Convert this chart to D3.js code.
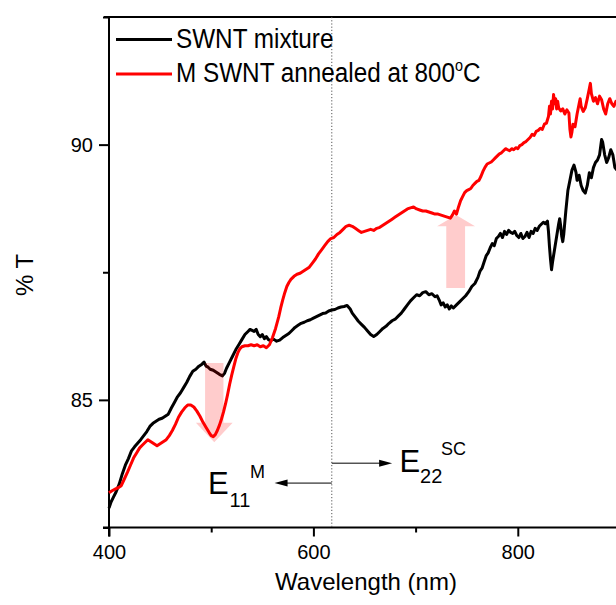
<!DOCTYPE html>
<html><head><meta charset="utf-8">
<script src="https://cdn.jsdelivr.net/npm/d3@7"></script>
<style>html,body{margin:0;padding:0;background:#fff;overflow:hidden}</style>
</head><body>
<svg id="c" width="616" height="605"></svg>
<script>
// ---- data ----
const blackNm = [400,402,404,407,410,413,416,419,422,425,428,431,434,437,440,443,446,449,452,455,458,461,464,467,470,473,476,479,482,485,488,491,493,495,497,499,502,505,508,511,513,515,518,521,524,527,530,533,536,538,540,542,544,546,548,550,552,554,556,558,561,564,567,570,573,576,579,582,585,588,591,594,597,600,603,606,609,612,615,618,621,624,627,630,633,636,638,641,644,647,650,653,656,659,662,665,668,671,674,677,680,683,686,689,692,695,698,701,704,707,710,713,716,719,721,723,725,727,729,731,733,735,737,740,743,746,749,752,755,758,761,763,765,767,769,771,773,775,777,779,781,783,785,787,789,791,793,795,797,799,801,803,805,807,809,811,813,815,817,819,821,823,825,827,829,830,831,832,833,834,836,838,840,841,842,843,844,845,847,849,851,853,855,857,858,860,862,864,866,868,870,872,874,876,878,880,882,883,885,887,889,891,893,895,897];
const blackT = [82.88,83.00,83.08,83.20,83.35,83.55,83.72,83.85,84.00,84.08,84.15,84.22,84.30,84.38,84.48,84.54,84.58,84.62,84.64,84.68,84.72,84.84,84.95,85.06,85.14,85.24,85.34,85.46,85.56,85.60,85.66,85.70,85.74,85.66,85.64,85.60,85.58,85.54,85.50,85.47,85.52,85.62,85.74,85.86,85.98,86.08,86.18,86.28,86.34,86.38,86.36,86.34,86.38,86.28,86.24,86.28,86.20,86.24,86.18,86.16,86.19,86.15,86.17,86.22,86.26,86.30,86.36,86.42,86.46,86.50,86.52,86.55,86.57,86.60,86.63,86.66,86.69,86.70,86.74,86.76,86.77,86.80,86.82,86.83,86.85,86.78,86.70,86.62,86.54,86.48,86.42,86.35,86.28,86.24,86.28,86.34,86.40,86.44,86.50,86.55,86.58,86.64,86.70,86.78,86.86,86.94,87.00,87.06,87.04,87.10,87.12,87.06,87.08,87.02,87.04,86.96,86.86,86.90,86.82,86.86,86.78,86.84,86.80,86.86,86.92,86.98,87.04,87.12,87.22,87.28,87.40,87.52,87.58,87.70,87.82,87.88,87.98,88.06,88.02,88.16,88.20,88.26,88.18,88.30,88.24,88.32,88.28,88.26,88.30,88.22,88.18,88.26,88.16,88.20,88.28,88.18,88.30,88.26,88.36,88.32,88.40,88.44,88.48,88.45,88.50,88.30,88.00,87.75,87.55,87.70,87.95,88.20,88.45,88.55,88.40,88.20,88.10,88.25,88.70,89.10,89.30,89.50,89.60,89.45,89.30,89.40,89.20,89.10,89.05,89.20,89.45,89.35,89.55,89.65,89.70,89.80,90.10,90.05,89.80,89.65,89.75,89.90,89.80,89.55,89.50];

const redNm = [400,403,406,409,412,415,418,421,424,427,430,433,436,438,441,444,447,450,453,456,459,462,465,468,471,474,477,480,483,486,489,492,495,498,500,502,504,506,508,510,512,514,516,518,520,522,524,526,528,530,533,536,539,542,545,548,551,554,557,560,563,566,568,570,572,574,576,578,581,584,587,590,593,596,599,602,605,608,611,614,617,620,623,626,629,632,635,638,641,644,647,650,653,656,659,662,665,668,671,674,677,680,683,686,689,692,695,698,701,704,707,710,713,716,719,722,725,728,731,734,736,738,740,742,744,746,748,750,752,754,756,758,760,762,764,766,768,770,772,774,776,778,780,782,784,786,788,790,792,794,796,798,800,802,804,806,808,810,812,814,816,818,820,822,824,826,828,830,831,832,833,834,835,836,837,838,839,840,842,844,846,848,850,851,852,853,854,856,858,860,861,862,864,866,868,870,871,872,874,876,878,880,882,884,886,888,890,892,894,896,897];
const redT = [83.18,83.22,83.25,83.28,83.32,83.45,83.58,83.72,83.86,83.96,84.06,84.12,84.18,84.22,84.18,84.14,84.10,84.14,84.18,84.22,84.30,84.40,84.52,84.66,84.76,84.84,84.90,84.90,84.86,84.78,84.68,84.56,84.46,84.36,84.30,84.28,84.32,84.40,84.50,84.62,84.76,84.92,85.10,85.30,85.48,85.64,85.80,85.92,86.00,86.04,86.06,86.06,86.08,86.06,86.08,86.04,86.06,86.02,86.08,86.22,86.40,86.62,86.80,86.96,87.10,87.22,87.30,87.36,87.42,87.46,87.48,87.52,87.56,87.60,87.68,87.76,87.86,87.94,88.02,88.10,88.16,88.18,88.24,88.28,88.34,88.40,88.42,88.40,88.36,88.32,88.28,88.30,88.32,88.34,88.32,88.36,88.38,88.42,88.46,88.50,88.54,88.58,88.62,88.66,88.70,88.74,88.76,88.78,88.74,88.72,88.70,88.70,88.68,88.66,88.64,88.64,88.62,88.60,88.58,88.56,88.62,88.70,88.64,88.78,88.90,88.98,89.06,89.10,89.12,89.14,89.20,89.24,89.28,89.30,89.38,89.48,89.56,89.62,89.64,89.66,89.70,89.74,89.78,89.82,89.84,89.88,89.92,89.90,89.88,89.92,89.90,89.94,89.92,89.98,90.00,90.04,90.06,90.10,90.14,90.20,90.18,90.26,90.28,90.32,90.30,90.40,90.42,90.55,90.75,90.60,90.85,90.70,90.98,90.80,90.90,90.70,90.85,90.72,90.66,90.70,90.60,90.68,90.62,90.30,90.15,90.25,90.40,90.35,90.60,90.80,90.90,90.75,90.65,90.72,90.90,91.10,91.20,91.00,90.85,90.92,90.80,90.95,90.88,90.70,90.60,90.80,90.90,90.80,90.75,90.85,90.80];

const seriesNames = ["SWNT mixture", "M SWNT annealed at 800"];
const xTicks = [400, 600, 800];
const xMinorTicks = [500, 700, 900];
const yTicks = [85, 90];
const yMinorTicks = [82.5, 87.5, 92.5];
const dividerNm = 618;                 // dotted line
const e11Arrow = [618, 562, 83.37];    // from nm, to nm, %T
const e22Arrow = [618, 677, 83.76];
// pink change arrows: [shaft nm from, shaft nm to, head nm from, head nm to, tail %T, head base %T, tip %T]
const downArrow = [494, 512, 485, 521, 85.72, 84.55, 84.17];
const upArrow = [730, 748.4, 721, 758.2, 87.19, 88.40, 88.62];

// ---- chart ----
const svg = d3.select("#c");
const font = "'Liberation Sans', Arial, Helvetica, sans-serif";
const x = d3.scaleLinear().domain([400, 900]).range([109, 620]);
const y = d3.scaleLinear().domain([82.5, 92.5]).range([527.5, 17]);

// frame lines
svg.append("line").attr("x1", x(400) - 5).attr("x2", x(900)).attr("y1", y(92.5)).attr("y2", y(92.5))
  .attr("stroke", "#000").attr("stroke-width", 2);

// x axis
const gx = svg.append("g").attr("transform", `translate(0,${y(82.5)})`)
  .call(d3.axisBottom(x).tickValues(xTicks).tickSize(9).tickSizeOuter(0).tickPadding(8.5).tickFormat(d3.format("d")));
gx.append("g").call(d3.axisBottom(x).tickValues(xMinorTicks).tickSize(5).tickSizeOuter(0).tickFormat(""))
  .select(".domain").remove();
gx.selectAll(".domain").attr("d", `M${x(400) - 6},0H${x(900)}`);
gx.selectAll("line").attr("stroke-width", 2);
gx.selectAll(".domain").attr("stroke-width", 2);
gx.selectAll("text").attr("font-family", font).attr("font-size", 20).attr("fill", "#000");

// y axis
const gy = svg.append("g").attr("transform", `translate(${x(400)},0)`)
  .call(d3.axisLeft(y).tickValues(yTicks).tickSize(10).tickSizeOuter(0).tickPadding(6).tickFormat(d3.format("d")));
gy.append("g").call(d3.axisLeft(y).tickValues(yMinorTicks).tickSize(6).tickSizeOuter(0).tickFormat(""))
  .select(".domain").remove();
gy.selectAll(".domain").attr("d", `M0,${y(92.5)}V${y(82.5) + 9}`);
gy.selectAll("line").attr("stroke-width", 2);
gy.selectAll(".domain").attr("stroke-width", 2);
gy.selectAll("text").attr("font-family", font).attr("font-size", 20).attr("fill", "#000");

// axis titles
svg.append("text").attr("x", 366).attr("y", 590).attr("text-anchor", "middle")
  .attr("font-family", font).attr("font-size", 24).text("Wavelength (nm)");
svg.append("text").attr("transform", "translate(33,275) rotate(-90)").attr("text-anchor", "middle")
  .attr("font-family", font).attr("font-size", 24).text("% T");

// dotted divider
svg.append("line").attr("x1", x(dividerNm)).attr("x2", x(dividerNm)).attr("y1", y(92.5)).attr("y2", y(82.5))
  .attr("stroke", "#555").attr("stroke-width", 1).attr("stroke-dasharray", "1.2,2");

// curves
const line = d3.line().x(d => x(d[0])).y(d => y(d[1]));
svg.append("path").datum(blackNm.map((v, i) => [v, blackT[i]])).attr("d", line)
  .attr("fill", "none").attr("stroke", "#000").attr("stroke-width", 3).attr("stroke-linejoin", "round");
svg.append("path").datum(redNm.map((v, i) => [v, redT[i]])).attr("d", line)
  .attr("fill", "none").attr("stroke", "#ff0000").attr("stroke-width", 3).attr("stroke-linejoin", "round");

// pink arrows
function pinkArrow(a) {
  const [s0, s1, h0, h1, tail, base, tip] = a;
  const mid = (h0 + h1) / 2;
  const pts = [[s0, tail], [s1, tail], [s1, base], [h1, base], [mid, tip], [h0, base], [s0, base]]
    .map(p => [x(p[0]), y(p[1])]);
  svg.append("polygon").attr("points", pts.map(p => p.join(",")).join(" "))
    .attr("fill", "#ff0000").attr("fill-opacity", 0.2);
}
pinkArrow(downArrow);
pinkArrow(upArrow);

// annotation arrows
function blackArrow(a) {
  const [from, to, t] = a;
  const x0 = x(from), x1 = x(to), yy = y(t);
  const dir = Math.sign(x1 - x0);
  svg.append("line").attr("x1", x0).attr("x2", x1 - dir * 10).attr("y1", yy).attr("y2", yy)
    .attr("stroke", "#000").attr("stroke-width", 1);
  svg.append("polygon").attr("points",
    `${x1},${yy} ${x1 - dir * 13},${yy - 3.5} ${x1 - dir * 13},${yy + 3.5}`).attr("fill", "#000");
  return [x1, yy];
}
const [e11x, e11y] = blackArrow(e11Arrow);
const [e22x, e22y] = blackArrow(e22Arrow);

function eLabel(xE, yE, sub, xSub, ySub, sup, xSup, ySup) {
  const g = svg.append("g").attr("font-family", font).attr("fill", "#000");
  g.append("text").attr("x", xE).attr("y", yE).attr("font-size", 31).text("E");
  g.append("text").attr("x", xSub).attr("y", ySub).attr("font-size", 20).text(sub);
  g.append("text").attr("x", xSup).attr("y", ySup).attr("font-size", 18).text(sup);
}
eLabel(e11x - 66.5, e11y + 11, "11", e11x - 45, e11y + 24, "M", e11x - 24.5, e11y - 5);
eLabel(e22x + 7.5, e22y + 9, "22", e22x + 28, e22y + 20, "SC", e22x + 49, e22y - 8);

// legend
const legend = svg.append("g");
[["#000", 39.5, 48], ["#ff0000", 74, 82]].forEach((c, i) => {
  legend.append("line").attr("x1", 116).attr("x2", 172).attr("y1", c[1]).attr("y2", c[1])
    .attr("stroke", c[0]).attr("stroke-width", 3);
  const t = legend.append("text").attr("transform", `translate(176,${c[2]}) scale(0.9,1)`)
    .attr("font-family", font).attr("font-size", 27).text(seriesNames[i]);
  if (i === 1) {
    t.append("tspan").attr("font-size", 16).attr("dy", -11).text("o");
    t.append("tspan").attr("font-size", 27).attr("dy", 11).text("C");
  }
});
</script>
</body></html>
